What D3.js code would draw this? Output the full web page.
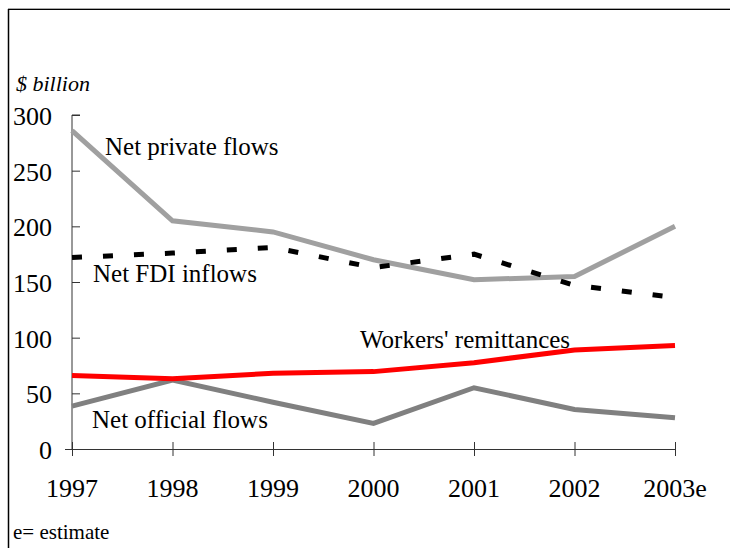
<!DOCTYPE html>
<html>
<head>
<meta charset="utf-8">
<script src="https://cdn.jsdelivr.net/npm/d3@7"></script>
<style>
  body { margin: 0; background: #fff; }
</style>
</head>
<body>
<svg width="730" height="548" font-family="Liberation Serif, DejaVu Serif, serif"></svg>
<script>
let years = ["1997", "1998", "1999", "2000", "2001", "2002", "2003e"];
let yTicks = [0, 50, 100, 150, 200, 250, 300];

let privateFlows = [286, 205, 195, 170, 152, 155, 200];
let fdiInflows = [172, 176, 181, 163, 175, 147, 136];
let remittances = [66, 63, 68, 69.5, 77.5, 89, 93];
let officialFlows = [38.5, 62, 42, 23, 55, 35.5, 28];

let serif = "Liberation Serif, DejaVu Serif, serif";

let svg = d3.select("svg");

let x = d3.scalePoint().domain(years).range([72, 675]),
    y = d3.scaleLinear().domain([0, 300]).range([449, 115]);

// frame
svg.append("line").attr("x1", 8).attr("x2", 730).attr("y1", 8.5).attr("y2", 8.5)
    .attr("stroke", "#aaa").attr("stroke-width", 1);
svg.append("line").attr("x1", 8).attr("x2", 730).attr("y1", 9.5).attr("y2", 9.5)
    .attr("stroke", "#000").attr("stroke-width", 1);
svg.append("line").attr("x1", 8.5).attr("x2", 8.5).attr("y1", 9).attr("y2", 548)
    .attr("stroke", "#000").attr("stroke-width", 1.5);

// y axis
let yAxis = svg.append("g").attr("transform", "translate(72,0)")
    .call(d3.axisRight(y).tickValues(yTicks).tickSize(8).tickFormat(""));
yAxis.select(".domain").attr("d", "M8," + y(300) + "H0V" + y(0));
yAxis.selectAll("line").attr("stroke", "#333");
yAxis.selectAll(".domain").attr("stroke", "#333");

svg.append("g").selectAll("text")
    .data(yTicks)
  .enter().append("text")
    .attr("x", 52)
    .attr("y", function(d) { return y(d) + 10; })
    .attr("text-anchor", "end")
    .attr("font-family", serif)
    .attr("font-size", 26)
    .text(function(d) { return d; });

// x axis
let xAxis = svg.append("g").attr("transform", "translate(0," + y(0) + ")")
    .call(d3.axisBottom(x).tickSize(7).tickSizeOuter(0).tickFormat(""));
xAxis.selectAll(".tick line").attr("y1", -7);
xAxis.selectAll("line").attr("stroke", "#333");
xAxis.select(".domain").attr("stroke", "#333").attr("d", "M65,0.5H675");

svg.append("g").selectAll("text")
    .data(years)
  .enter().append("text")
    .attr("x", function(d) { return x(d); })
    .attr("y", 497)
    .attr("text-anchor", "middle")
    .attr("font-family", serif)
    .attr("font-size", 26)
    .text(function(d) { return d; });

let line = d3.line()
    .x(function(d, i) { return x(years[i]); })
    .y(function(d) { return y(d); });

let series = [
  { values: privateFlows, color: "#a0a0a0", dash: null },
  { values: officialFlows, color: "#808080", dash: null },
  { values: remittances, color: "#ff0000", dash: null },
  { values: fdiInflows, color: "#000", dash: "10,21" }
];

svg.append("g").selectAll("path")
    .data(series)
  .enter().append("path")
    .attr("d", function(d) { return line(d.values); })
    .attr("fill", "none")
    .attr("stroke", function(d) { return d.color; })
    .attr("stroke-width", 5)
    .attr("stroke-dasharray", function(d) { return d.dash; });

// labels
let labels = [
  { text: "Net private flows", x: 105, y: 155 },
  { text: "Net FDI inflows", x: 93, y: 282 },
  { text: "Workers' remittances", x: 360, y: 348 },
  { text: "Net official flows", x: 92, y: 428 }
];

svg.append("g").selectAll("text")
    .data(labels)
  .enter().append("text")
    .attr("x", function(d) { return d.x; })
    .attr("y", function(d) { return d.y; })
    .attr("font-family", serif)
    .attr("font-size", 25)
    .text(function(d) { return d.text; });

svg.append("text").attr("x", 16).attr("y", 91)
    .attr("font-family", serif)
    .attr("font-size", 22).attr("font-style", "italic")
    .text("$ billion");

svg.append("text").attr("x", 13).attr("y", 539)
    .attr("font-family", serif)
    .attr("font-size", 21)
    .text("e= estimate");
</script>
</body>
</html>
